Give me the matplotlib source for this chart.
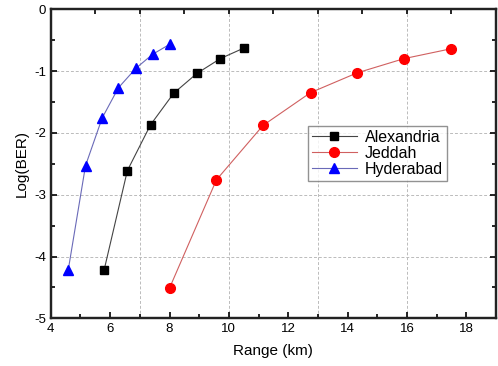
import matplotlib

matplotlib.use("Agg")
import matplotlib.pyplot as plt
import numpy as np
from matplotlib.ticker import MultipleLocator, NullFormatter

plt.rcParams["font.family"] = ["Liberation Sans", "DejaVu Sans"]
plt.rcParams["axes.unicode_minus"] = False

# Values
alex_range = [5.80, 6.58, 7.36, 8.14, 8.92, 9.71, 10.50]
alex_ber = [-4.21, -2.61, -1.87, -1.36, -1.04, -0.80, -0.63]

jeddah_range = [8.00, 9.58, 11.15, 12.75, 14.32, 15.90, 17.49]
jeddah_ber = [-4.51, -2.76, -1.88, -1.35, -1.03, -0.80, -0.64]

hyd_range = [4.59, 5.17, 5.73, 6.28, 6.87, 7.43, 8.00]
hyd_ber = [-4.21, -2.53, -1.76, -1.27, -0.955, -0.73, -0.57]

fig = plt.figure(figsize=(4.98, 3.66), dpi=100)
ax = fig.add_axes([0.102, 0.130, 0.894, 0.845])

# Twin axis on top: carries the 1.5-step ticks and the vertical grid
ax2 = ax.twiny()
ax.set_zorder(ax2.get_zorder() + 1)
ax.patch.set_visible(False)

ax.plot(alex_range, alex_ber, color="#444444", linewidth=0.8,
        marker="s", markersize=6, markerfacecolor="black",
        markeredgecolor="black", label="Alexandria")
ax.plot(jeddah_range, jeddah_ber, color="#d06060", linewidth=0.8,
        marker="o", markersize=7, markerfacecolor="red",
        markeredgecolor="red", label="Jeddah")
ax.plot(hyd_range, hyd_ber, color="#6a6ab8", linewidth=0.8,
        marker="^", markersize=7.5, markerfacecolor="blue",
        markeredgecolor="blue", label="Hyderabad")

ax.set_xlim(4, 19)
ax.set_ylim(-5, 0)
ax.set_xticks(np.arange(4, 19, 2))
ax.xaxis.set_minor_locator(MultipleLocator(1))
ax.set_yticks(np.arange(-5, 0.1, 1))
ax.yaxis.set_minor_locator(MultipleLocator(0.5))
ax.yaxis.set_ticks_position("both")
ax.tick_params(axis="both", which="both", direction="in", labelsize=9.5,
               width=1.2)
ax.tick_params(which="major", length=4)
ax.tick_params(which="minor", length=3)

ax.grid(axis="y", color="#bbbbbb", linestyle=(0, (3, 2)), linewidth=0.7)

ax2.set_xlim(4, 19)
ax2.set_xticks(np.arange(4, 19.1, 3))
ax2.set_xticks(np.arange(5.5, 19, 3), minor=True)
ax2.xaxis.set_major_formatter(NullFormatter())
ax2.tick_params(axis="x", which="both", direction="in", length=3.5, width=1.2)
ax2.grid(axis="x", color="#bbbbbb", linestyle=(0, (3, 2)), linewidth=0.7)

for a in (ax, ax2):
    for spine in a.spines.values():
        spine.set_linewidth(1.6)
        spine.set_color("#222222")

ax.set_xlabel("Range (km)", fontsize=11, labelpad=6)
ax.set_ylabel("Log(BER)", fontsize=11, labelpad=4)

leg = ax.legend(loc="upper left", bbox_to_anchor=(0.578, 0.622),
                fontsize=11.5, frameon=True, fancybox=False,
                edgecolor="#777777", handlelength=2.8, borderpad=0.25,
                labelspacing=0.05, handletextpad=0.5, borderaxespad=0)
leg.get_frame().set_linewidth(1.0)

fig.savefig("out.png", dpi=100)
